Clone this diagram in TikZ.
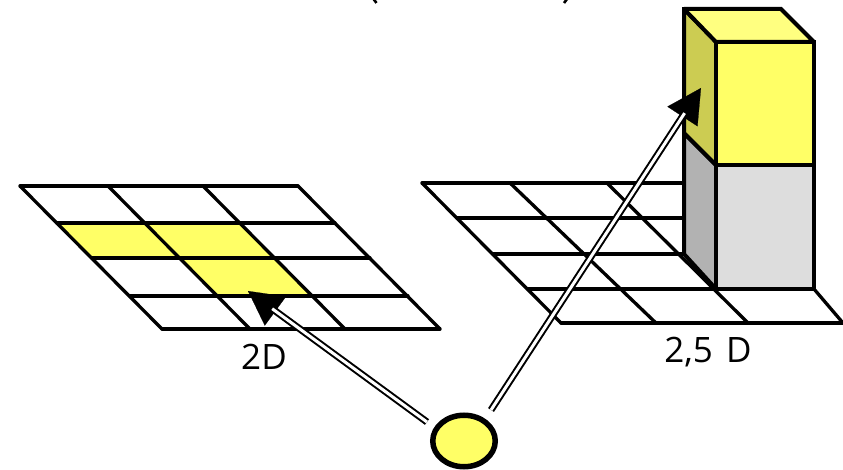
\documentclass[tikz,border=0pt]{standalone}
\usepackage{fontspec}
\setmainfont{Open Sans}
\usetikzlibrary{arrows.meta,shapes.geometric}
\definecolor{yel}{HTML}{FFFF66}
\definecolor{yeltop}{HTML}{FFFF80}
\definecolor{yelside}{HTML}{CCCC52}
\definecolor{grside}{HTML}{B2B2B2}
\definecolor{grfront}{HTML}{DDDDDD}
\tikzset{
  gridline/.style={draw=black,line width=3.3pt,line cap=round},
  boxface/.style={draw=black,line width=4pt,line join=miter,miter limit=2},
  boxcorner/.style={draw=black,line width=4pt,line join=miter},
  hatline/.style={draw=black,line width=2pt,double=white,double distance=3pt,shorten >=30pt},
  tipline/.style={draw=black,line width=0.2pt,-{Triangle[length=34pt,width=36pt]}},
  lab/.style={font=\fontsize{35}{40}\selectfont,text=black,inner sep=0pt},
  eye/.style={draw=black,fill=yel,line width=5.5pt,shape=ellipse,minimum width=62.5pt,minimum height=51.5pt,inner sep=0pt},
}
\begin{document}
\begin{tikzpicture}[x=1pt,y=-1pt]
\useasboundingbox (0,0) rectangle (843,470);
% clipped ends of the heading's parentheses
\draw[black,line width=2.6pt] (373.5,-1) -- (376.5,3);
\draw[black,line width=2.6pt] (567,-1) -- (564,3);
% left grid highlight
\fill[yel] (57,223) -- (240,223) -- (275,258) -- (313,296) -- (218,296) -- (180,258) -- (92,258) -- cycle;
% left grid
\foreach \ya/\xa/\xb in {186/20/298,223/57/335,258/92/370,296/130/408,329/162/440}
  \draw[gridline] (\xa,\ya) -- (\xb,\ya);
\foreach \xa/\xb in {20/162,108/250,203/345,298/440}
  \draw[gridline] (\xa,186) -- (\xb,329);
% right grid
\foreach \ya/\xa/\xb in {183/422/684,218/457/684,254/493/684,289/528/814,323/561/843}
  \draw[gridline] (\xa,\ya) -- (\xb,\ya);
\foreach \xa/\xb in {422/561,510/656,607/748}
  \draw[gridline] (\xa,183) -- (\xb,323);
\draw[gridline] (814,289) -- (843,323);
% column
\filldraw[boxface,fill=grside] (684,133) -- (716,165) -- (716,289) -- (684,254) -- cycle;
\filldraw[boxface,fill=grfront] (716,165) rectangle (814,289);
\filldraw[boxface,fill=yelside] (684,9) -- (716,42) -- (716,165) -- (684,133) -- cycle;
\filldraw[boxface,fill=yel] (716,42) rectangle (814,165);
\filldraw[boxface,fill=yeltop] (684,9) -- (781,9) -- (814,42) -- (716,42) -- cycle;
\draw[boxcorner] (684,24) -- (684,9) -- (700,9);
\draw[boxcorner] (814,56) -- (814,42) -- (800,42);
% nodes
\node[lab] (lab2d) at (264,357) {2D};
\node[lab] (lab25d) at (708,352) {2,5\hspace{0.12em} D};
\node[eye] (eyept) at (464,441) {};
% connectors
\coordinate (leftstart) at (427,422);
\coordinate (lefttip) at (248,291);
\coordinate (rightstart) at (491,410);
\coordinate (righttip) at (701,88);
\path[tipline] (leftstart) -- (lefttip);
\path[hatline] (leftstart) -- (lefttip);
\path[tipline] (rightstart) -- (righttip);
\path[hatline] (rightstart) -- (righttip);
\end{tikzpicture}
\end{document}
